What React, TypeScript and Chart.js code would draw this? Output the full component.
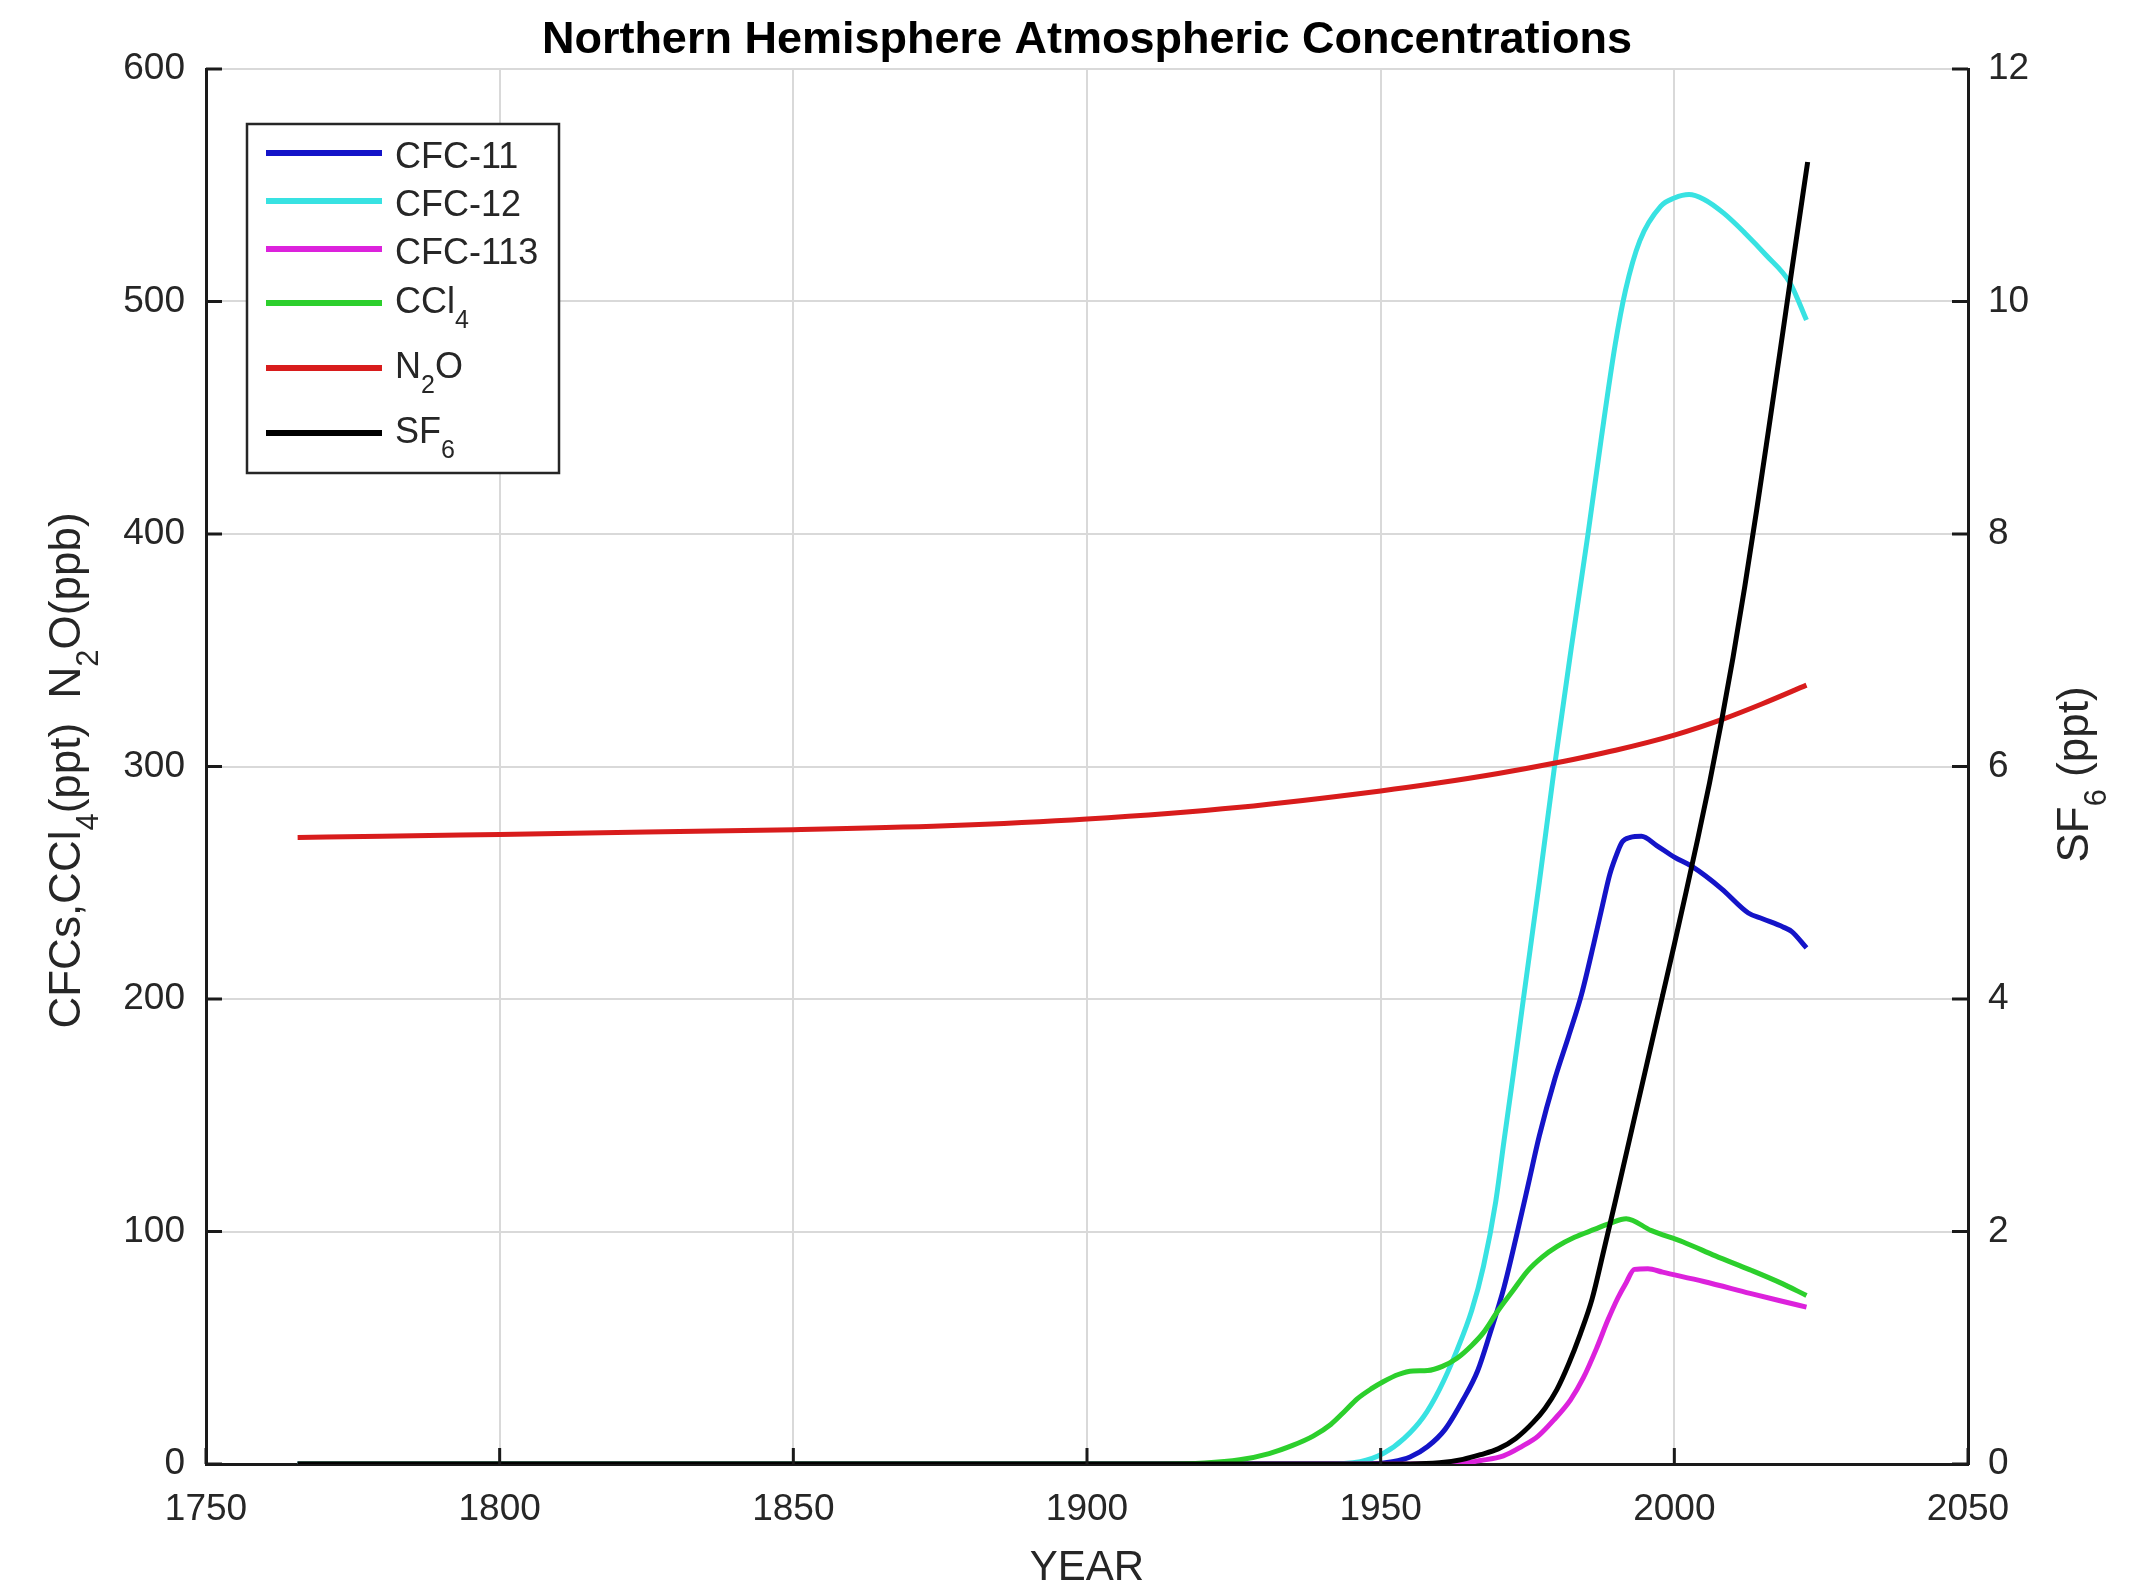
import React, { useEffect, useRef } from "react";
import { Chart, registerables } from "chart.js";

Chart.register(...registerables);

// ---------- text & ticks ----------
const TITLE = "Northern Hemisphere Atmospheric Concentrations";
const X_LABEL = "YEAR";
const X_TICKS = [1750, 1800, 1850, 1900, 1950, 2000, 2050];
const Y_LEFT_TICKS = [0, 100, 200, 300, 400, 500, 600];
const Y_RIGHT_TICKS = [0, 2, 4, 6, 8, 10, 12];

// ---------- series ----------
const cfc11Years = [1765.6, 1948, 1952, 1955, 1958, 1961, 1964, 1966.5, 1968.6, 1971, 1973.2, 1975.2, 1977, 1979.7, 1982, 1984.2, 1986.3, 1988.1, 1989, 1990, 1991.1, 1992.5, 1994.4, 1997, 2000, 2003, 2008, 2012.6, 2015, 2018.5, 2020, 2022.5];
const cfc11Values = [0, 0, 1, 3, 7.5, 15, 27.5, 40, 56, 76, 99, 121, 141, 166, 184, 202, 224, 244, 253.5, 261, 267.5, 269.5, 270, 266, 261, 257, 247.5, 237, 234.5, 231, 229, 222];

const cfc12Years = [1765.6, 1940, 1946.5, 1950.5, 1954, 1957.3, 1960, 1963, 1965.5, 1967.5, 1969.6, 1971, 1972.6, 1974.3, 1977, 1979.6, 1982.4, 1985.3, 1987.5, 1989.9, 1991.7, 1994.1, 1997.7, 2000, 2002.5, 2005, 2008.4, 2012, 2015.6, 2019.7, 2022.5];
const cfc12Values = [0, 0, 1, 4.6, 11, 20.3, 32, 49, 66, 85, 113, 139, 168, 200, 250, 300, 350, 400, 440, 481, 505, 526, 541, 544.5, 546, 544, 538, 529.5, 520, 508, 492];

const cfc113Years = [1765.6, 1958, 1963.3, 1967, 1970.9, 1974, 1976.8, 1979.5, 1982.3, 1984.5, 1986.8, 1988.7, 1990.4, 1991.8, 1993.2, 1995.5, 1998, 2005, 2012.9, 2018, 2022.5];
const cfc113Values = [0, 0, 0.2, 1.5, 3.5, 7.5, 12, 19, 27.5, 37, 50, 62, 71.5, 78, 83.7, 84, 82.5, 78.5, 73.4, 70.2, 67.5];

const ccl4Years = [1765.6, 1912, 1920, 1926, 1931, 1935, 1938.5, 1941.5, 1944, 1946, 1948.5, 1950.5, 1953, 1955.5, 1958, 1960.5, 1963, 1965.5, 1967.5, 1970, 1972.5, 1975, 1977.5, 1980, 1983, 1986.5, 1989, 1991.8, 1996, 2001.5, 2007, 2012.9, 2018, 2022.5];
const ccl4Values = [0, 0, 0.4, 1.8, 4.5, 8, 12, 17, 23, 28, 32.5, 35.5, 38.5, 40, 40.2, 42, 45.5, 51, 56.5, 66, 74.5, 83, 89, 93.5, 97.5, 101, 103.5, 105.5, 100.5, 95.5, 89.5, 83.5, 78, 72.5];

const n2oYears = [1765.6, 1780, 1800, 1825, 1850, 1876, 1900, 1926, 1950, 1960, 1970, 1979.7, 1990, 2000, 2008.4, 2015, 2022.5];
const n2oValues = [269.5, 270, 270.8, 271.8, 272.8, 274.5, 277.4, 282.5, 289.5, 293, 297, 301.5, 307, 313.5, 320.5, 327, 335];

const sf6Years = [1765.6, 1955, 1960, 1964, 1967, 1970, 1973, 1976, 1978, 1980, 1982, 1984, 1986, 1988, 1990, 1992, 1994, 1996, 1998, 2000, 2002, 2004, 2006, 2008, 2010, 2012, 2014, 2016, 2018, 2020, 2022.7];
const sf6Values = [0, 0, 0.01, 0.04, 0.08, 0.13, 0.22, 0.36, 0.48, 0.64, 0.86, 1.12, 1.42, 1.84, 2.27, 2.71, 3.15, 3.59, 4.03, 4.47, 4.92, 5.38, 5.86, 6.38, 6.94, 7.55, 8.2, 8.88, 9.57, 10.27, 11.2];

// ---------- styling ----------
const FAMILY = '"Liberation Sans", Arial, Helvetica, sans-serif';
const TEXT = "#262626";
const COLORS = {
  cfc11: "#1414c8",
  cfc12: "#38e2e2",
  cfc113: "#dc22dc",
  ccl4: "#2ccf2c",
  n2o: "#d81c1c",
  sf6: "#000000",
};

type Seg = [string, boolean];

const LEGEND: { segs: Seg[]; color: string }[] = [
  { segs: [["CFC-11", false]], color: COLORS.cfc11 },
  { segs: [["CFC-12", false]], color: COLORS.cfc12 },
  { segs: [["CFC-113", false]], color: COLORS.cfc113 },
  { segs: [["CCl", false], ["4", true]], color: COLORS.ccl4 },
  { segs: [["N", false], ["2", true], ["O", false]], color: COLORS.n2o },
  { segs: [["SF", false], ["6", true]], color: COLORS.sf6 },
];
const Y_LEFT_LABEL: Seg[] = [["CFCs,CCl", false], ["4", true], ["(ppt)  N", false], ["2", true], ["O(ppb)", false]];
const Y_RIGHT_LABEL: Seg[] = [["SF", false], ["6", true], [" (ppt)", false]];

function drawRich(
  ctx: CanvasRenderingContext2D,
  segs: Seg[],
  x: number,
  y: number,
  size: number,
  weight: string,
  align: "left" | "center"
) {
  const mainFont = `${weight} ${size}px ${FAMILY}`;
  const subSize = Math.round(size * 0.7);
  const subFont = `${weight} ${subSize}px ${FAMILY}`;
  let total = 0;
  const widths = segs.map(([t, sub]) => {
    ctx.font = sub ? subFont : mainFont;
    const w = ctx.measureText(t).width;
    total += w;
    return w;
  });
  let cx = align === "center" ? x - total / 2 : x;
  ctx.textAlign = "left";
  ctx.textBaseline = "alphabetic";
  segs.forEach(([t, sub], i) => {
    ctx.font = sub ? subFont : mainFont;
    ctx.fillText(t, cx, sub ? y + size * 0.42 : y);
    cx += widths[i];
  });
}

const decorPlugin = {
  id: "decor",
  afterDraw(chart: any) {
    const ctx: CanvasRenderingContext2D = chart.ctx;
    const area = chart.chartArea;
    const xs = chart.scales.x;
    const yl = chart.scales.y;
    const yr = chart.scales.y2;
    ctx.save();

    // inward tick marks
    ctx.strokeStyle = "#1a1a1a";
    ctx.lineWidth = 3;
    const TL = 16;
    ctx.beginPath();
    X_TICKS.forEach((v) => {
      const px = xs.getPixelForValue(v);
      ctx.moveTo(px, area.bottom);
      ctx.lineTo(px, area.bottom - TL);
    });
    Y_LEFT_TICKS.forEach((v) => {
      const py = yl.getPixelForValue(v);
      ctx.moveTo(area.left, py);
      ctx.lineTo(area.left + TL, py);
    });
    Y_RIGHT_TICKS.forEach((v) => {
      const py = yr.getPixelForValue(v);
      ctx.moveTo(area.right, py);
      ctx.lineTo(area.right - TL, py);
    });
    ctx.stroke();

    // title
    ctx.fillStyle = "#000";
    drawRich(ctx, [[TITLE, false]], (area.left + area.right) / 2, 53, 45, "bold", "center");

    // axis titles
    ctx.fillStyle = TEXT;
    drawRich(ctx, [[X_LABEL, false]], (area.left + area.right) / 2, 1580, 42, "normal", "center");

    ctx.save();
    ctx.translate(80, (area.top + area.bottom) / 2 + 4);
    ctx.rotate(-Math.PI / 2);
    drawRich(ctx, Y_LEFT_LABEL, 0, 0, 44, "normal", "center");
    ctx.restore();

    ctx.save();
    ctx.translate(2088, (area.top + area.bottom) / 2 + 8);
    ctx.rotate(-Math.PI / 2);
    drawRich(ctx, Y_RIGHT_LABEL, 0, 0, 44, "normal", "center");
    ctx.restore();

    // legend
    const bx = 247, by = 124, bw = 312, bh = 349;
    ctx.fillStyle = "#fff";
    ctx.fillRect(bx, by, bw, bh);
    ctx.strokeStyle = "#262626";
    ctx.lineWidth = 2.5;
    ctx.strokeRect(bx, by, bw, bh);
    const rowY = [153, 201, 249, 303, 368, 433];
    LEGEND.forEach((item, i) => {
      const ly = rowY[i];
      ctx.strokeStyle = item.color;
      ctx.lineWidth = 6;
      ctx.beginPath();
      ctx.moveTo(266, ly);
      ctx.lineTo(382, ly);
      ctx.stroke();
      const hasSub = item.segs.some((s) => s[1]);
      ctx.fillStyle = TEXT;
      drawRich(ctx, item.segs, 395, ly + (hasSub ? 10 : 15), 36, "normal", "left");
    });

    ctx.restore();
  },
};

function series(years: number[], values: number[]) {
  return years.map((x, i) => ({ x, y: values[i] }));
}

export default function App() {
  const ref = useRef<HTMLCanvasElement | null>(null);

  useEffect(() => {
    if (!ref.current) return;
    const common = {
      pointRadius: 0,
      borderWidth: 5,
      fill: false,
      cubicInterpolationMode: "monotone" as const,
    };
    const chart = new Chart(ref.current, {
      type: "line",
      data: {
        datasets: [
          { ...common, label: "CFC-11", data: series(cfc11Years, cfc11Values), borderColor: COLORS.cfc11, yAxisID: "y", order: 5 },
          { ...common, label: "CFC-12", data: series(cfc12Years, cfc12Values), borderColor: COLORS.cfc12, yAxisID: "y", order: 4 },
          { ...common, label: "CFC-113", data: series(cfc113Years, cfc113Values), borderColor: COLORS.cfc113, yAxisID: "y", order: 3 },
          { ...common, label: "CCl4", data: series(ccl4Years, ccl4Values), borderColor: COLORS.ccl4, yAxisID: "y", order: 2 },
          { ...common, label: "N2O", data: series(n2oYears, n2oValues), borderColor: COLORS.n2o, yAxisID: "y", order: 1 },
          { ...common, label: "SF6", data: series(sf6Years, sf6Values), borderColor: COLORS.sf6, yAxisID: "y2", order: 0 },
        ],
      },
      options: {
        responsive: false,
        maintainAspectRatio: false,
        animation: false,
        devicePixelRatio: 1,
        layout: { padding: { top: 69, left: 0, right: 0, bottom: 0 } },
        plugins: {
          legend: { display: false },
          title: { display: false },
          tooltip: { enabled: false },
        },
        scales: {
          x: {
            type: "linear",
            min: 1750,
            max: 2050,
            afterFit: (s: any) => {
              s.height = 125;
            },
            afterBuildTicks: (s: any) => {
              s.ticks = X_TICKS.map((v) => ({ value: v }));
            },
            ticks: {
              callback: (v: any) => String(v),
              font: { family: FAMILY, size: 37 },
              color: TEXT,
              padding: 24,
              maxRotation: 0,
              autoSkip: false,
            },
            grid: { color: "#d9d9d9", lineWidth: 2, drawTicks: false },
            border: { display: true, color: "#1a1a1a", width: 3 },
          },
          y: {
            type: "linear",
            position: "left",
            min: 0,
            max: 600,
            afterFit: (s: any) => {
              s.width = 206;
            },
            afterBuildTicks: (s: any) => {
              s.ticks = Y_LEFT_TICKS.map((v) => ({ value: v }));
            },
            ticks: {
              callback: (v: any) => String(v),
              font: { family: FAMILY, size: 37 },
              color: TEXT,
              padding: 21,
              autoSkip: false,
            },
            grid: { color: "#d9d9d9", lineWidth: 2, drawTicks: false },
            border: { display: true, color: "#1a1a1a", width: 3 },
          },
          y2: {
            type: "linear",
            position: "right",
            min: 0,
            max: 12,
            afterFit: (s: any) => {
              s.width = 182;
            },
            afterBuildTicks: (s: any) => {
              s.ticks = Y_RIGHT_TICKS.map((v) => ({ value: v }));
            },
            ticks: {
              callback: (v: any) => String(v),
              font: { family: FAMILY, size: 37 },
              color: TEXT,
              padding: 20,
              autoSkip: false,
            },
            grid: { display: true, drawOnChartArea: false, drawTicks: false },
            border: { display: true, color: "#1a1a1a", width: 3 },
          },
        },
      },
      plugins: [decorPlugin],
    });
    return () => chart.destroy();
  }, []);

  return (
    <div style={{ position: "fixed", left: 0, top: 0, width: 2150, height: 1589, background: "#fff" }}>
      <canvas ref={ref} width={2150} height={1589} style={{ display: "block", width: 2150, height: 1589 }} />
    </div>
  );
}
